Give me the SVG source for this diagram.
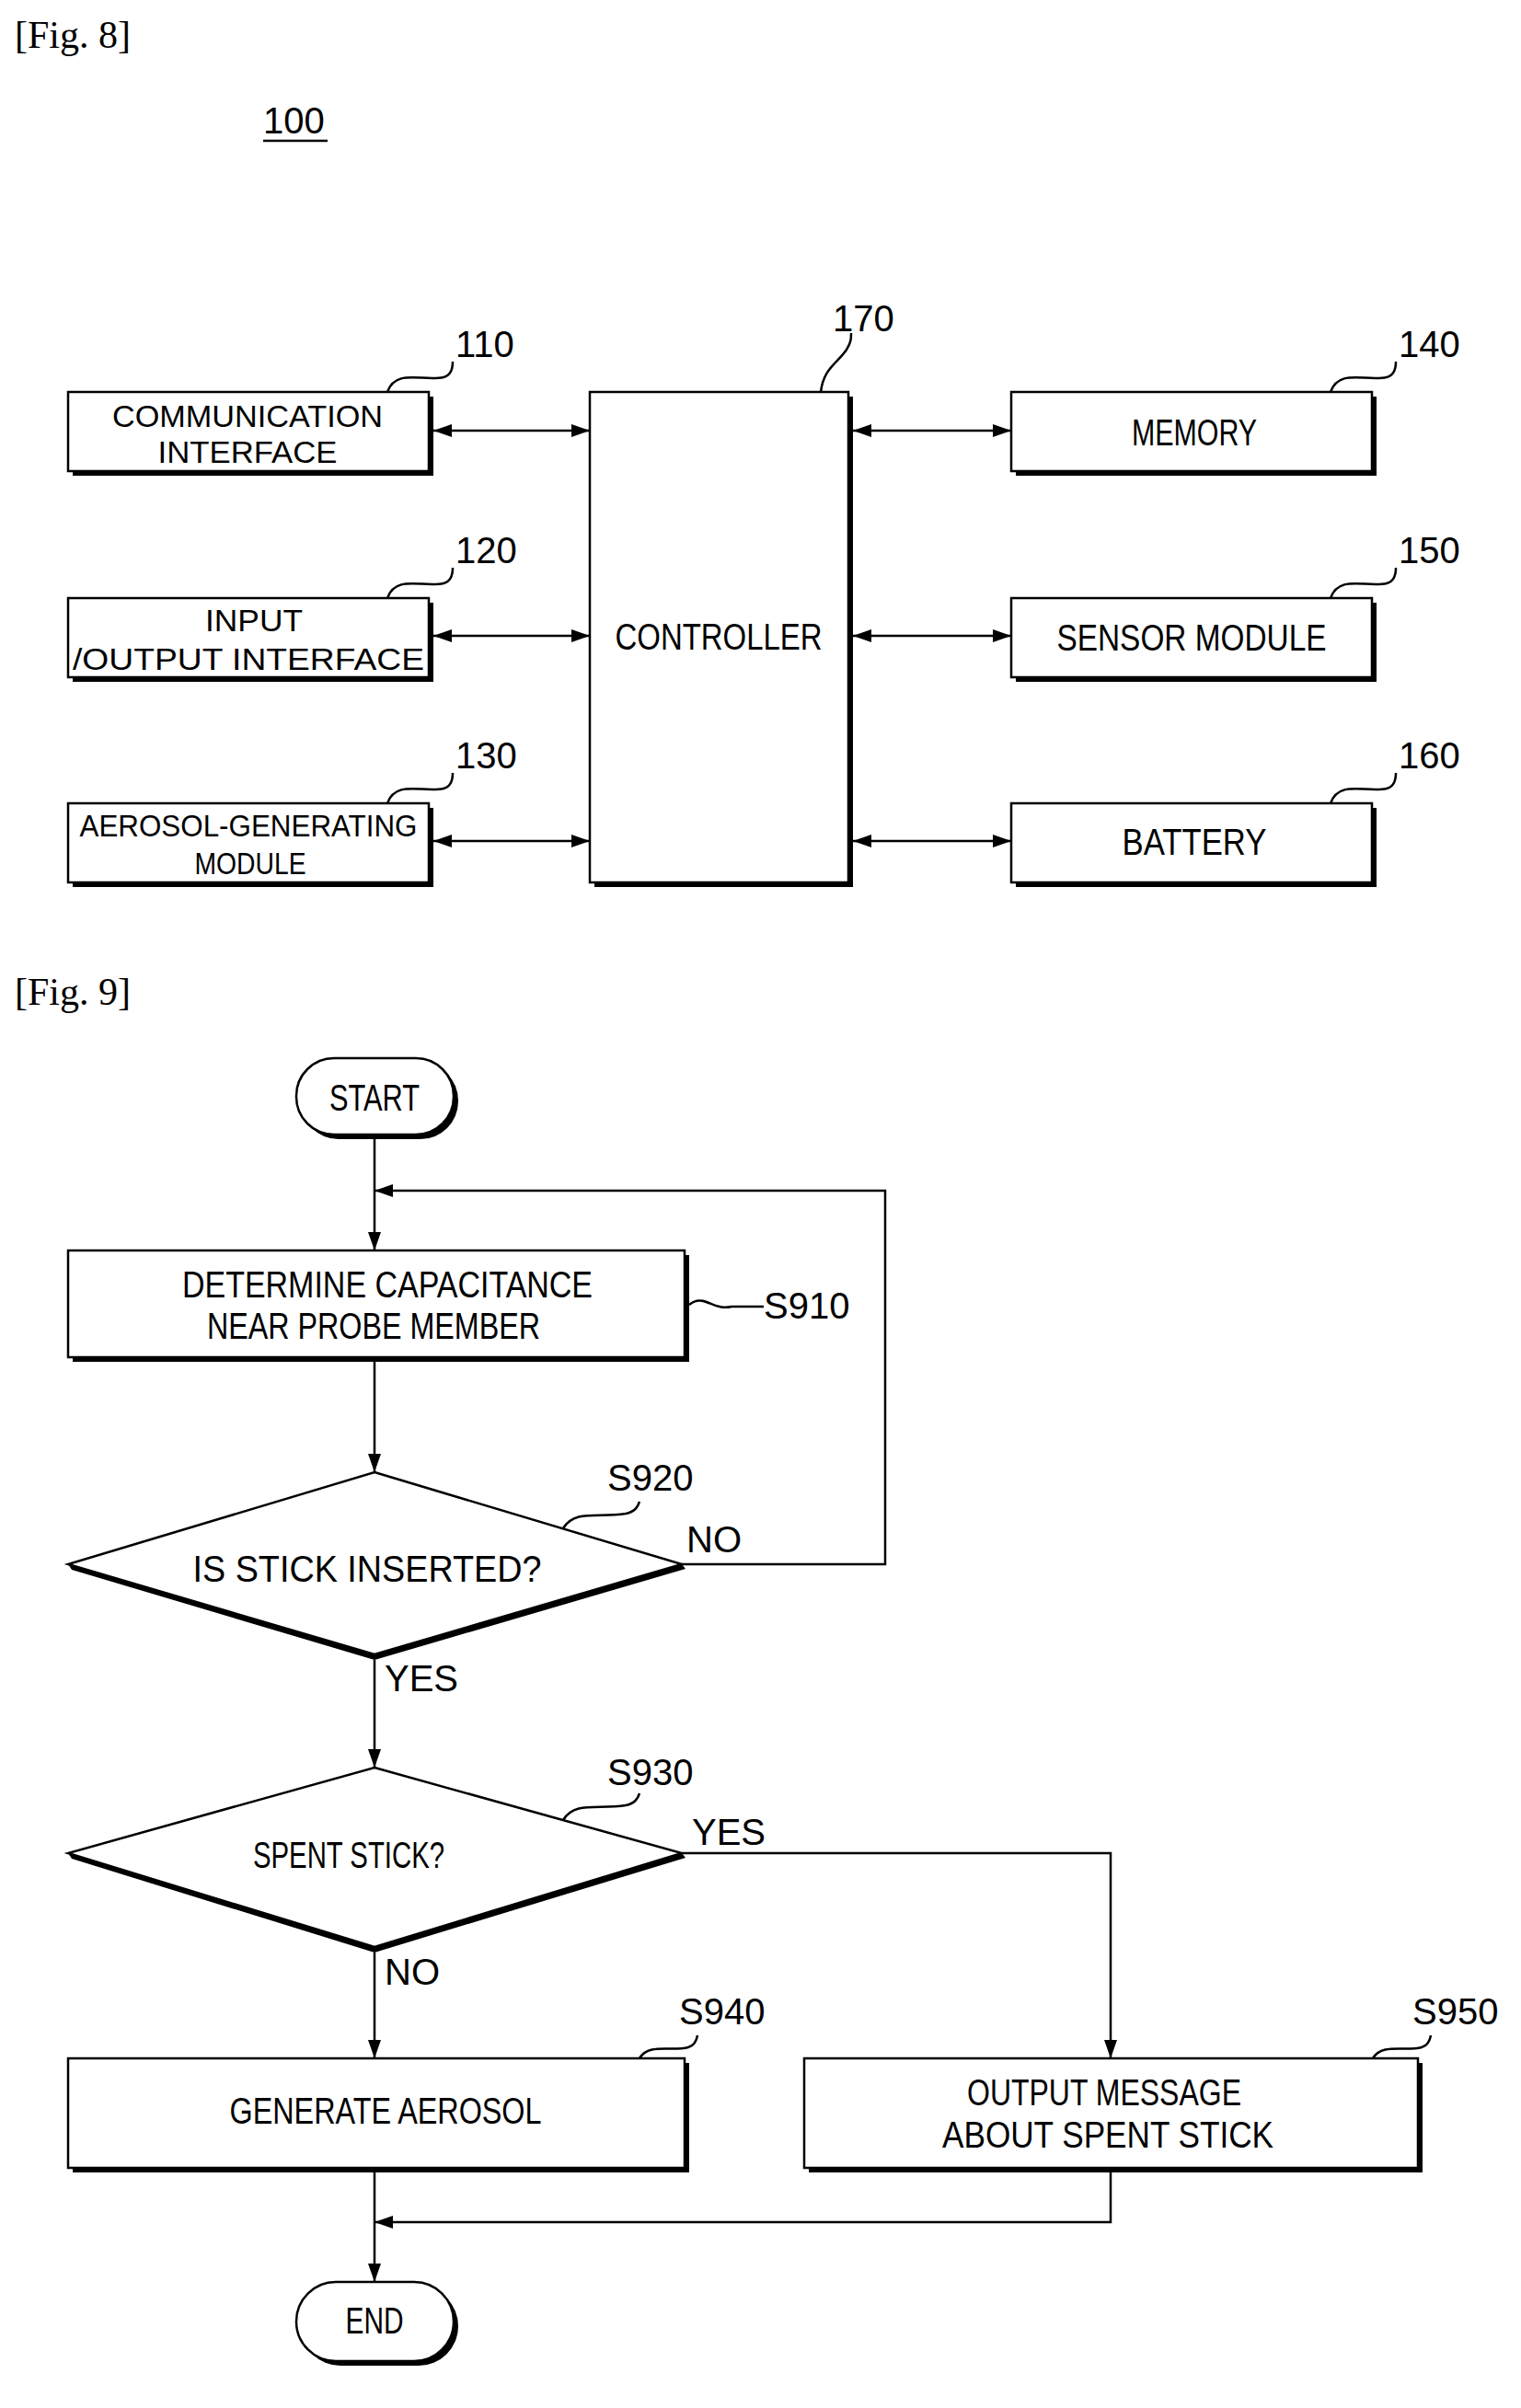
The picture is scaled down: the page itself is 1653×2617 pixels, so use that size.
<svg xmlns="http://www.w3.org/2000/svg" width="1653" height="2617" viewBox="0 0 1653 2617">
<style>
.b{fill:#fff;stroke:#000;stroke-width:2.5}
.s{fill:#000}
.t{font-family:"Liberation Sans",Arial,sans-serif;font-size:40px;text-anchor:middle;fill:#000}
.t2{font-family:"Liberation Sans",Arial,sans-serif;font-size:34px;text-anchor:middle;fill:#000}
.n{font-family:"Liberation Sans",Arial,sans-serif;font-size:40px;fill:#000}
.f{font-family:"Liberation Serif",serif;font-size:42px;fill:#000}
.l{fill:none;stroke:#000;stroke-width:2.5}
</style>
<defs>
<marker id="ab" viewBox="0 0 10 10" refX="10" refY="5" markerWidth="20" markerHeight="14" markerUnits="userSpaceOnUse" orient="auto-start-reverse" preserveAspectRatio="none"><path d="M0,0 L10,5 L0,10z"/></marker>
</defs>
<text class="f" x="16" y="52">[Fig. 8]</text>
<text class="n" x="286" y="145">100</text>
<line x1="286" y1="153" x2="356" y2="153" stroke="#000" stroke-width="2.5"/>

<g id="n110"><rect class="s" x="79" y="431" width="392" height="86"/><rect class="b" x="74" y="426" width="392" height="86"/>
<text class="t2" x="269" y="464" textLength="294" lengthAdjust="spacingAndGlyphs">COMMUNICATION</text>
<text class="t2" x="269" y="503" textLength="195" lengthAdjust="spacingAndGlyphs">INTERFACE</text>
<path class="l" d="M421,426 C430,400 460,415 482,410 C490,408 492,400 492,393"/><text class="n" x="495" y="388">110</text></g>
<g id="n120"><rect class="s" x="79" y="655" width="392" height="86"/><rect class="b" x="74" y="650" width="392" height="86"/>
<text class="t2" x="276" y="686" textLength="106" lengthAdjust="spacingAndGlyphs">INPUT</text>
<text class="t2" x="270" y="728" textLength="382" lengthAdjust="spacingAndGlyphs">/OUTPUT  INTERFACE</text>
<path class="l" d="M421,650 C430,624 460,639 482,634 C490,632 492,624 492,617"/><text class="n" x="495" y="612">120</text></g>
<g id="n130"><rect class="s" x="79" y="878" width="392" height="86"/><rect class="b" x="74" y="873" width="392" height="86"/>
<text class="t2" x="270" y="909" textLength="367" lengthAdjust="spacingAndGlyphs">AEROSOL-GENERATING</text>
<text class="t2" x="272" y="950" textLength="121" lengthAdjust="spacingAndGlyphs">MODULE</text>
<path class="l" d="M421,873 C430,847 460,862 482,857 C490,855 492,847 492,840"/><text class="n" x="495" y="835">130</text></g>
<g id="n170"><rect class="s" x="646" y="431" width="281" height="533"/><rect class="b" x="641" y="426" width="281" height="533"/>
<text class="t" x="781" y="706" textLength="225" lengthAdjust="spacingAndGlyphs">CONTROLLER</text>
<path class="l" d="M892,426 C895,400 910,395 920,380 C925,372 925,368 925,362"/><text class="n" x="905" y="360">170</text></g>
<g id="n140"><rect class="s" x="1104" y="431" width="392" height="86"/><rect class="b" x="1099" y="426" width="392" height="86"/>
<text class="t" x="1298" y="484" textLength="136" lengthAdjust="spacingAndGlyphs">MEMORY</text>
<path class="l" d="M1446,426 C1455,400 1485,415 1507,410 C1515,408 1517,400 1517,393"/><text class="n" x="1520" y="388">140</text></g>
<g id="n150"><rect class="s" x="1104" y="655" width="392" height="86"/><rect class="b" x="1099" y="650" width="392" height="86"/>
<text class="t" x="1295" y="707" textLength="293" lengthAdjust="spacingAndGlyphs">SENSOR  MODULE</text>
<path class="l" d="M1446,650 C1455,624 1485,639 1507,634 C1515,632 1517,624 1517,617"/><text class="n" x="1520" y="612">150</text></g>
<g id="n160"><rect class="s" x="1104" y="878" width="392" height="86"/><rect class="b" x="1099" y="873" width="392" height="86"/>
<text class="t" x="1298" y="929" textLength="157" lengthAdjust="spacingAndGlyphs">BATTERY</text>
<path class="l" d="M1446,873 C1455,847 1485,862 1507,857 C1515,855 1517,847 1517,840"/><text class="n" x="1520" y="835">160</text></g>
<g id="fig8-connectors" stroke="#000" stroke-width="2.5">
<line x1="471" y1="468" x2="641" y2="468" marker-start="url(#ab)" marker-end="url(#ab)"/>
<line x1="471" y1="691" x2="641" y2="691" marker-start="url(#ab)" marker-end="url(#ab)"/>
<line x1="471" y1="914" x2="641" y2="914" marker-start="url(#ab)" marker-end="url(#ab)"/>
<line x1="927" y1="468" x2="1099" y2="468" marker-start="url(#ab)" marker-end="url(#ab)"/>
<line x1="927" y1="691" x2="1099" y2="691" marker-start="url(#ab)" marker-end="url(#ab)"/>
<line x1="927" y1="914" x2="1099" y2="914" marker-start="url(#ab)" marker-end="url(#ab)"/>
</g>

<text class="f" x="16" y="1092">[Fig. 9]</text>
<g id="start"><rect class="s" x="327" y="1155" width="171" height="83" rx="41"/><rect class="b" x="322" y="1150" width="171" height="83" rx="41"/>
<text class="t" x="407" y="1207" textLength="98" lengthAdjust="spacingAndGlyphs">START</text></g>
<g id="s910"><rect class="s" x="79" y="1364" width="670" height="116"/><rect class="b" x="74" y="1359" width="670" height="116"/>
<text class="t" x="421" y="1410" textLength="446" lengthAdjust="spacingAndGlyphs">DETERMINE  CAPACITANCE</text>
<text class="t" x="406" y="1455" textLength="362" lengthAdjust="spacingAndGlyphs">NEAR  PROBE  MEMBER</text>
<path class="l" d="M749,1418 C765,1405 775,1425 795,1420 L830,1420"/><text class="n" x="830" y="1433">S910</text></g>
<g id="s920"><path d="M74,1700 L407,1798 L741,1700 L745,1705 L407,1804 L78,1706z" class="s"/><path class="b" d="M407,1600 L741,1700 L407,1798 L74,1700z"/>
<text class="t" x="399" y="1719" textLength="379" lengthAdjust="spacingAndGlyphs">IS  STICK  INSERTED?</text>
<path class="l" d="M612,1661 C625,1640 650,1650 680,1645 C690,1643 693,1638 695,1632"/><text class="n" x="660" y="1620">S920</text>
<text class="n" x="746" y="1687">NO</text><text class="n" x="418" y="1838">YES</text></g>
<g id="s930"><path d="M74,2014 L407,2116 L741,2014 L745,2019 L407,2122 L78,2020z" class="s"/><path class="b" d="M407,1921 L741,2014 L407,2116 L74,2014z"/>
<text class="t" x="379" y="2030" textLength="208" lengthAdjust="spacingAndGlyphs">SPENT  STICK?</text>
<path class="l" d="M612,1978 C625,1957 650,1967 680,1962 C690,1960 693,1955 695,1949"/><text class="n" x="660" y="1940">S930</text>
<text class="n" x="752" y="2005">YES</text><text class="n" x="418" y="2157">NO</text></g>
<g id="s940"><rect class="s" x="79" y="2242" width="670" height="119"/><rect class="b" x="74" y="2237" width="670" height="119"/>
<text class="t" x="419" y="2308" textLength="339" lengthAdjust="spacingAndGlyphs">GENERATE  AEROSOL</text>
<path class="l" d="M695,2237 C705,2220 730,2230 748,2225 C755,2223 757,2218 758,2212"/><text class="n" x="738" y="2200">S940</text></g>
<g id="s950"><rect class="s" x="879" y="2242" width="667" height="119"/><rect class="b" x="874" y="2237" width="667" height="119"/>
<text class="t" x="1200" y="2288" textLength="298" lengthAdjust="spacingAndGlyphs">OUTPUT  MESSAGE</text>
<text class="t" x="1204" y="2334" textLength="360" lengthAdjust="spacingAndGlyphs">ABOUT  SPENT  STICK</text>
<path class="l" d="M1492,2237 C1502,2220 1527,2230 1545,2225 C1552,2223 1554,2218 1555,2212"/><text class="n" x="1535" y="2200">S950</text></g>
<g id="end"><rect class="s" x="327" y="2485" width="171" height="86" rx="43"/><rect class="b" x="322" y="2480" width="171" height="86" rx="43"/>
<text class="t" x="407" y="2536" textLength="63" lengthAdjust="spacingAndGlyphs">END</text></g>
<g id="fig9-connectors" fill="none" stroke="#000" stroke-width="2.5">
<line x1="407" y1="1238" x2="407" y2="1359" marker-end="url(#ab)"/>
<line x1="407" y1="1480" x2="407" y2="1600" marker-end="url(#ab)"/>
<polyline points="741,1700 962,1700 962,1294 407,1294" marker-end="url(#ab)"/>
<line x1="407" y1="1804" x2="407" y2="1921" marker-end="url(#ab)"/>
<polyline points="741,2014 1207,2014 1207,2237" marker-end="url(#ab)"/>
<line x1="407" y1="2122" x2="407" y2="2237" marker-end="url(#ab)"/>
<line x1="407" y1="2361" x2="407" y2="2480" marker-end="url(#ab)"/>
<polyline points="1207,2361 1207,2415 407,2415" marker-end="url(#ab)"/>
</g>
</svg>
